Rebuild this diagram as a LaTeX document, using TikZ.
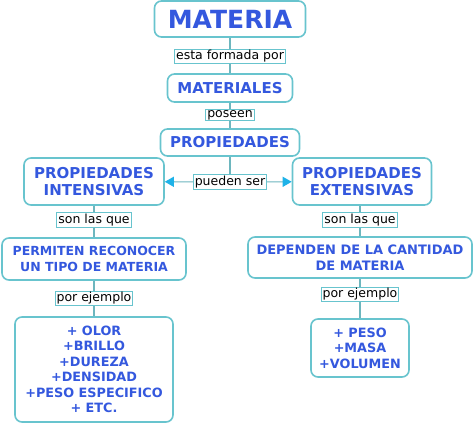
\documentclass[tikz,border=0pt]{standalone}
\usepackage{fontspec}
\setmainfont{DejaVu Sans}
\usetikzlibrary{arrows.meta}
\definecolor{boxline}{RGB}{104,196,206}
\definecolor{boxtext}{RGB}{52,88,222}
\definecolor{tipcyan}{RGB}{30,178,232}
\begin{document}
\begin{tikzpicture}[x=1pt,y=1pt,line width=1.2pt,
  concept/.style={draw=boxline,line width=1.6pt,rounded corners=7pt,fill=white,
    text=boxtext,font=\bfseries\fontsize{13}{15.5}\selectfont,align=center,inner sep=0pt},
  linkword/.style={draw=boxline,line width=1pt,fill=white,text=black,
    font=\fontsize{12.5}{14}\selectfont,inner xsep=1.5pt,inner ysep=1pt},
  link/.style={draw=boxline!80!gray,line width=1.1pt},
  points/.style={link,-{Triangle[length=9pt,width=10pt,fill=tipcyan,color=tipcyan]}}]
  \useasboundingbox (0,0) rectangle (474,-424);
  \node[concept,minimum width=151,minimum height=36,font=\bfseries\fontsize{25}{28}\selectfont] (materia) at (230,-19) {MATERIA};
  \node[concept,minimum width=125,minimum height=28,font=\bfseries\fontsize{15}{18}\selectfont] (materiales) at (230,-88) {MATERIALES};
  \node[concept,minimum width=139,minimum height=27,font=\bfseries\fontsize{15}{18}\selectfont] (propiedades) at (230,-142.5) {PROPIEDADES};
  \node[concept,minimum width=140,minimum height=47,font=\bfseries\fontsize{15}{17.5}\selectfont] (intensivas) at (94,-181.5) {PROPIEDADES\\INTENSIVAS};
  \node[concept,minimum width=139,minimum height=47,font=\bfseries\fontsize{15}{17.5}\selectfont] (extensivas) at (362,-181.5) {PROPIEDADES\\EXTENSIVAS};
  \node[concept,minimum width=184,minimum height=42,font=\bfseries\fontsize{12.5}{15.5}\selectfont] (permiten) at (94,-259) {PERMITEN RECONOCER\\UN TIPO DE MATERIA};
  \node[concept,minimum width=224,minimum height=41] (dependen) at (360,-257.5) {DEPENDEN DE LA CANTIDAD\\DE MATERIA};
  \node[concept,minimum width=158,minimum height=105,font=\bfseries\fontsize{12.8}{15.5}\selectfont] (ejemplosint) at (94,-369.5)
    {+ OLOR\\+BRILLO\\+DUREZA\\+DENSIDAD\\+PESO ESPECIFICO\\+ ETC.};
  \node[concept,minimum width=98,minimum height=58,font=\bfseries\fontsize{12.8}{15.5}\selectfont] (ejemplosext) at (360,-348)
    {+ PESO\\+MASA\\+VOLUMEN};
  \node[linkword] (formada) at (230,-56.5) {esta formada por};
  \node[linkword] (poseen) at (230,-115) {poseen};
  \node[linkword] (pueden) at (230,-182) {pueden ser};
  \node[linkword] (sonint) at (94,-220) {son las que};
  \node[linkword] (sonext) at (360,-220) {son las que};
  \node[linkword] (ejint) at (94,-298.5) {por ejemplo};
  \node[linkword] (ejext) at (360,-294.5) {por ejemplo};
  \draw[link] (materia) -- (formada) -- (materiales) -- (poseen) -- (propiedades) -- (pueden);
  \draw[points] (pueden) -- (intensivas);
  \draw[points] (pueden) -- (extensivas);
  \draw[link] (intensivas) -- (sonint) -- (permiten) -- (ejint) -- (ejemplosint);
  \draw[link] (sonext |- extensivas.south) -- (sonext) -- (dependen) -- (ejext) -- (ejemplosext);
\end{tikzpicture}
\end{document}
